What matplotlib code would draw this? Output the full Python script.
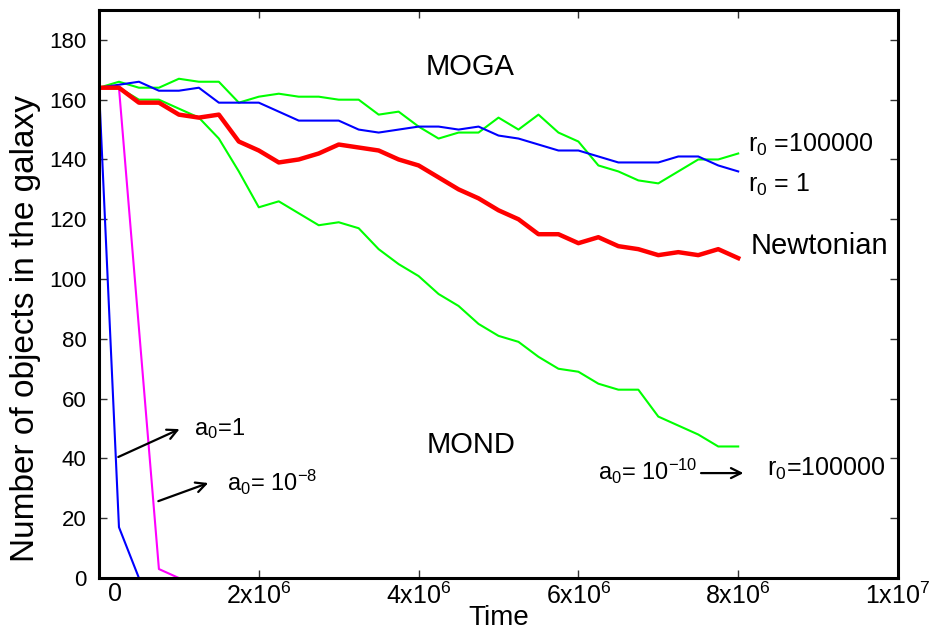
import numpy as np
import matplotlib
matplotlib.use("Agg")
import matplotlib.pyplot as plt
import matplotlib.transforms as mtransforms

plt.rcParams['font.family'] = ['Liberation Sans', 'DejaVu Sans']
plt.rcParams['mathtext.fontset'] = 'custom'
plt.rcParams['mathtext.rm'] = 'Liberation Sans'
plt.rcParams['mathtext.it'] = 'Liberation Sans:italic'

# time steps of 2.5e5 from 0 to 8e6
paso = 0.25e6
tiempo = np.arange(33) * paso

newtonian = [164, 164, 159, 159, 155, 154, 155, 146, 143, 139, 140, 142, 145, 144, 143, 140, 138,
             134, 130, 127, 123, 120, 115, 115, 112, 114, 111, 110, 108, 109, 108, 110, 107]
moga_r1 = [164, 165, 166, 163, 163, 164, 159, 159, 159, 156, 153, 153, 153, 150, 149, 150, 151,
           151, 150, 151, 148, 147, 145, 143, 143, 141, 139, 139, 139, 141, 141, 138, 136]
moga_r100000 = [164, 166, 164, 164, 167, 166, 166, 159, 161, 162, 161, 161, 160, 160, 155, 156, 151,
                147, 149, 149, 154, 150, 155, 149, 146, 138, 136, 133, 132, 136, 140, 140, 142]
mond_a10 = [164, 164, 160, 160, 157, 154, 147, 136, 124, 126, 122, 118, 119, 117, 110, 105, 101,
            95, 91, 85, 81, 79, 74, 70, 69, 65, 63, 63, 54, 51, 48, 44, 44]

mond_a1_t = [0, 0.25e6, 0.5e6]
mond_a1 = [164, 17, 0]
mond_a8_t = [0, 0.25e6, 0.75e6, 1.0e6]
mond_a8 = [164, 164, 3, 0]

xticks = [0, 2e6, 4e6, 6e6, 8e6, 1e7]
xtick_labels = ['0', r'2x10$^6$', r'4x10$^6$', r'6x10$^6$', r'8x10$^6$', r'1x10$^7$']
yticks = list(range(0, 181, 20))

fig = plt.figure(figsize=(9.33, 6.32), dpi=100)
ax = fig.add_axes([0.1061, 0.0854, 0.8564, 0.8988])

ax.plot(tiempo, moga_r100000, color='#00ff00', linewidth=1.5)
ax.plot(tiempo, mond_a10, color='#00ff00', linewidth=1.5)
ax.plot(tiempo, moga_r1, color='#0000ff', linewidth=1.5)
ax.plot(mond_a1_t, mond_a1, color='#0000ff', linewidth=1.5)
ax.plot(mond_a8_t, mond_a8, color='#ff00ff', linewidth=1.5)
ax.plot(tiempo, newtonian, color='#ff0000', linewidth=3.2)

ax.set_xlim(0, 1e7)
ax.set_ylim(0, 190)
ax.set_xticks(xticks)
ax.set_xticklabels(xtick_labels)
ax.set_yticks(yticks)
ax.tick_params(direction='in', length=6, width=1, color='#333333',
               top=True, right=True)
ax.tick_params(axis='x', labelsize=18, pad=3)
ax.tick_params(axis='y', labelsize=16, pad=9)
for s in ax.spines.values():
    s.set_linewidth(2.2)

# the "0" label sits a bit right of the axis in the original
lab0 = ax.get_xticklabels()[0]
lab0.set_transform(lab0.get_transform() + mtransforms.ScaledTranslation(0.16, 0, fig.dpi_scale_trans))

ax.set_xlabel('Time', fontsize=20, labelpad=-2.5)
ax.set_ylabel('Number of objects in the galaxy', fontsize=24)
ax.yaxis.set_label_coords(-0.073, 0.44)

ax.text(4.64e6, 171, 'MOGA', fontsize=21, ha='center', va='center')
ax.text(4.66e6, 44.5, 'MOND', fontsize=21, ha='center', va='center')
ax.text(8.12e6, 145, r'r$_0$ =100000', fontsize=18, ha='left', va='center')
ax.text(8.12e6, 131.5, r'r$_0$ = 1', fontsize=18, ha='left', va='center')
ax.text(8.15e6, 111, 'Newtonian', fontsize=21, ha='left', va='center')

ax.text(6.24e6, 35.5, r'a$_0$= 10$^{-10}$', fontsize=17, ha='left', va='center')
ax.text(8.36e6, 36.5, r'r$_0$=100000', fontsize=18, ha='left', va='center')
ax.annotate('', xy=(8.1e6, 35.1), xytext=(7.5e6, 35.1),
            arrowprops=dict(arrowstyle='->', color='black', lw=1.6, mutation_scale=18))

ax.text(1.19e6, 50, r'a$_0$=1', fontsize=17, ha='left', va='center')
ax.annotate('', xy=(1.04e6, 50.2), xytext=(0.21e6, 40.1),
            arrowprops=dict(arrowstyle='->', color='black', lw=1.6, mutation_scale=18))

ax.text(1.6e6, 32, r'a$_0$= 10$^{-8}$', fontsize=17, ha='left', va='center')
ax.annotate('', xy=(1.4e6, 32.1), xytext=(0.71e6, 25.4),
            arrowprops=dict(arrowstyle='->', color='black', lw=1.6, mutation_scale=18))

plt.savefig('out.png', dpi=100)
